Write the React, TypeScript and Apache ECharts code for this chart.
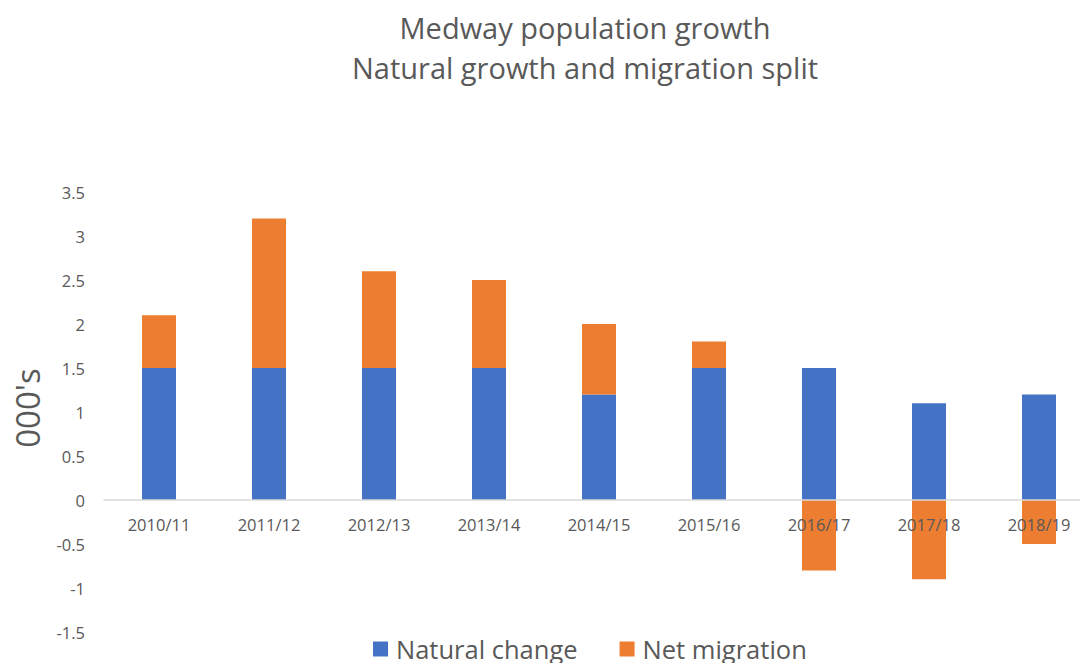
import React, { useEffect, useRef } from "react";
import * as echarts from "echarts";

const categories = ["2010/11", "2011/12", "2012/13", "2013/14", "2014/15", "2015/16", "2016/17", "2017/18", "2018/19"];
const naturalChange = [1.5, 1.5, 1.5, 1.5, 1.2, 1.5, 1.5, 1.1, 1.2];
const netMigration = [0.6, 1.7, 1.1, 1.0, 0.8, 0.3, -0.8, -0.9, -0.5];
const titleLines = ["Medway population growth", "Natural growth and migration split"];
const yAxisName = "000's";

const FONT = "'Open Sans', 'Noto Sans', sans-serif";
const GREY = "#595959";

export default function App() {
  const ref = useRef<HTMLDivElement>(null);
  useEffect(() => {
    const chart = echarts.init(ref.current!, undefined, { renderer: "svg" });
    chart.setOption({
      animation: false,
      backgroundColor: "#ffffff",
      textStyle: { fontFamily: FONT },
      title: {
        text: titleLines.join("\n"),
        left: 580,
        top: 2,
        textAlign: "center",
        textStyle: { fontFamily: FONT, fontSize: 29, fontWeight: "normal", color: GREY, lineHeight: 40 },
      },
      legend: {
        data: ["Natural change", "Net migration"],
        left: 368,
        top: 631,
        itemWidth: 15,
        itemHeight: 15,
        itemGap: 42,
        icon: "rect",
        textStyle: { fontFamily: FONT, fontSize: 25.5, color: GREY, padding: [0, 0, 0, 3] },
      },
      grid: { left: 104, right: 0, top: 192, bottom: 31, containLabel: false },
      graphic: [
        {
          type: "text",
          x: 27,
          y: 408,
          rotation: Math.PI / 2,
          style: {
            text: yAxisName,
            font: `33px ${FONT}`,
            fill: GREY,
            align: "center",
            verticalAlign: "middle",
          },
        },
      ],
      xAxis: {
        type: "category",
        data: categories,
        offset: -132,
        axisLine: { onZero: false, lineStyle: { color: "#d9d9d9", width: 1.5 } },
        axisTick: { show: false },
        axisLabel: { color: GREY, fontSize: 16.5, margin: 16, fontFamily: FONT },
        z: 10,
      },
      yAxis: {
        type: "value",
        min: -1.5,
        max: 3.5,
        interval: 0.5,
        splitLine: { show: false },
        axisLine: { show: false },
        axisTick: { show: false },
        axisLabel: { color: GREY, fontSize: 16.5, margin: 19, fontFamily: FONT },
      },
      series: [
        {
          name: "Natural change",
          type: "bar",
          stack: "total",
          barWidth: 34,
          itemStyle: { color: "#4472C4" },
          data: naturalChange,
        },
        {
          name: "Net migration",
          type: "bar",
          stack: "total",
          barWidth: 34,
          itemStyle: { color: "#ED7D31" },
          data: netMigration,
        },
      ],
    });
    return () => chart.dispose();
  }, []);
  return (
    <div style={{ position: "absolute", left: 0, top: 0, width: 1080, height: 663, overflow: "hidden" }}>
      <div ref={ref} style={{ width: 1094, height: 663 }} />
    </div>
  );
}
